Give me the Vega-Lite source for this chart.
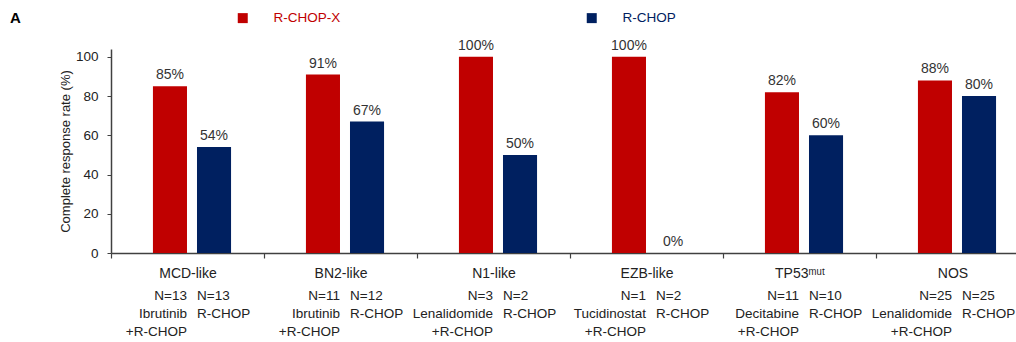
{
  "$schema": "https://vega.github.io/schema/vega-lite/v6.json",
  "width": 905,
  "height": 204,
  "autosize": {"type": "none"},
  "padding": {"left": 111, "top": 49, "right": 0, "bottom": 89},
  "background": "white",
  "config": {"view": {"stroke": null}, "font": "Liberation Sans"},
  "title": {"text": "A", "anchor": "start", "frame": "group", "dx": -101, "offset": -15, "fontSize": 15, "fontWeight": "bold", "color": "#000000", "font": "Liberation Sans"},
  "data": {"values": [
    {"subtype": "MCD-like", "arm": "R-CHOP-X", "rate": 85, "label": "85%", "lines": ["N=13", "Ibrutinib", "+R-CHOP"]},
    {"subtype": "MCD-like", "arm": "R-CHOP", "rate": 54, "label": "54%", "lines": ["N=13", "", "R-CHOP"]},
    {"subtype": "BN2-like", "arm": "R-CHOP-X", "rate": 91, "label": "91%", "lines": ["N=11", "Ibrutinib", "+R-CHOP"]},
    {"subtype": "BN2-like", "arm": "R-CHOP", "rate": 67, "label": "67%", "lines": ["N=12", "", "R-CHOP"]},
    {"subtype": "N1-like", "arm": "R-CHOP-X", "rate": 100, "label": "100%", "lines": ["N=3", "Lenalidomide", "+R-CHOP"]},
    {"subtype": "N1-like", "arm": "R-CHOP", "rate": 50, "label": "50%", "lines": ["N=2", "", "R-CHOP"]},
    {"subtype": "EZB-like", "arm": "R-CHOP-X", "rate": 100, "label": "100%", "lines": ["N=1", "Tucidinostat", "+R-CHOP"]},
    {"subtype": "EZB-like", "arm": "R-CHOP", "rate": 0, "label": "0%", "lines": ["N=2", "", "R-CHOP"]},
    {"subtype": "TP53ᵐᵘᵗ", "arm": "R-CHOP-X", "rate": 82, "label": "82%", "lines": ["N=11", "Decitabine", "+R-CHOP"]},
    {"subtype": "TP53ᵐᵘᵗ", "arm": "R-CHOP", "rate": 60, "label": "60%", "lines": ["N=10", "", "R-CHOP"]},
    {"subtype": "NOS", "arm": "R-CHOP-X", "rate": 88, "label": "88%", "lines": ["N=25", "Lenalidomide", "+R-CHOP"]},
    {"subtype": "NOS", "arm": "R-CHOP", "rate": 80, "label": "80%", "lines": ["N=25", "", "R-CHOP"]}
  ]},
  "encoding": {
    "x": {
      "field": "subtype", "type": "nominal", "sort": null,
      "scale": {"range": [0, 918], "paddingInner": 0, "paddingOuter": 0},
      "axis": {"title": null, "labelAngle": 0, "tickBand": "extent", "tickSize": 5, "tickColor": "#404040", "domainColor": "#404040", "domainWidth": 1.5, "tickWidth": 1.2, "labelFontSize": 14, "labelColor": "#222222", "labelPadding": 8, "labelFont": "Liberation Sans"}
    },
    "xOffset": {
      "field": "arm", "type": "nominal",
      "scale": {"domain": ["R-CHOP-X", "R-CHOP"], "paddingInner": 0.227, "paddingOuter": 0.85, "align": 0.56}
    }
  },
  "layer": [
    {
      "mark": {"type": "bar"},
      "encoding": {
        "y": {
          "field": "rate", "type": "quantitative",
          "scale": {"domain": [0, 104], "nice": false},
          "axis": {"title": "Complete response rate (%)", "values": [0, 20, 40, 60, 80, 100], "grid": false, "tickSize": 4, "tickColor": "#404040", "domainColor": "#404040", "domainWidth": 1.5, "labelFontSize": 13.5, "labelColor": "#222222", "labelPadding": 9, "titleFontSize": 13, "titleFontWeight": "normal", "titleColor": "#222222", "titlePadding": 3, "labelFont": "Liberation Sans", "titleFont": "Liberation Sans"}
        },
        "color": {
          "field": "arm", "type": "nominal",
          "scale": {"domain": ["R-CHOP-X", "R-CHOP"], "range": ["#c00000", "#002060"]},
          "legend": {"orient": "none", "legendX": 125, "legendY": -38, "direction": "horizontal", "title": null, "symbolType": "square", "symbolSize": 100, "symbolStrokeWidth": 0, "symbolOpacity": 1, "labelFontSize": 13.5, "labelFont": "Liberation Sans", "labelOffset": 24, "columnPadding": 244, "padding": 0,
            "encode": {"labels": {"update": {"fill": {"scale": "color", "field": "value"}}}}}
        }
      }
    },
    {
      "mark": {"type": "text", "baseline": "alphabetic", "dy": -7, "fontSize": 14, "color": "#333333", "font": "Liberation Sans"},
      "encoding": {
        "y": {"field": "rate", "type": "quantitative"},
        "text": {"field": "label", "type": "nominal"}
      }
    },
    {
      "transform": [{"filter": "datum.arm === 'R-CHOP-X'"}],
      "mark": {"type": "text", "align": "right", "baseline": "top", "dx": 17, "dy": 36, "lineHeight": 18, "fontSize": 13.5, "color": "#222222", "font": "Liberation Sans"},
      "encoding": {
        "y": {"datum": 0, "type": "quantitative"},
        "text": {"field": "lines", "type": "nominal"}
      }
    },
    {
      "transform": [{"filter": "datum.arm === 'R-CHOP'"}],
      "mark": {"type": "text", "align": "left", "baseline": "top", "dx": -17, "dy": 36, "lineHeight": 18, "fontSize": 13.5, "color": "#222222", "font": "Liberation Sans"},
      "encoding": {
        "y": {"datum": 0, "type": "quantitative"},
        "text": {"field": "lines", "type": "nominal"}
      }
    }
  ]
}
